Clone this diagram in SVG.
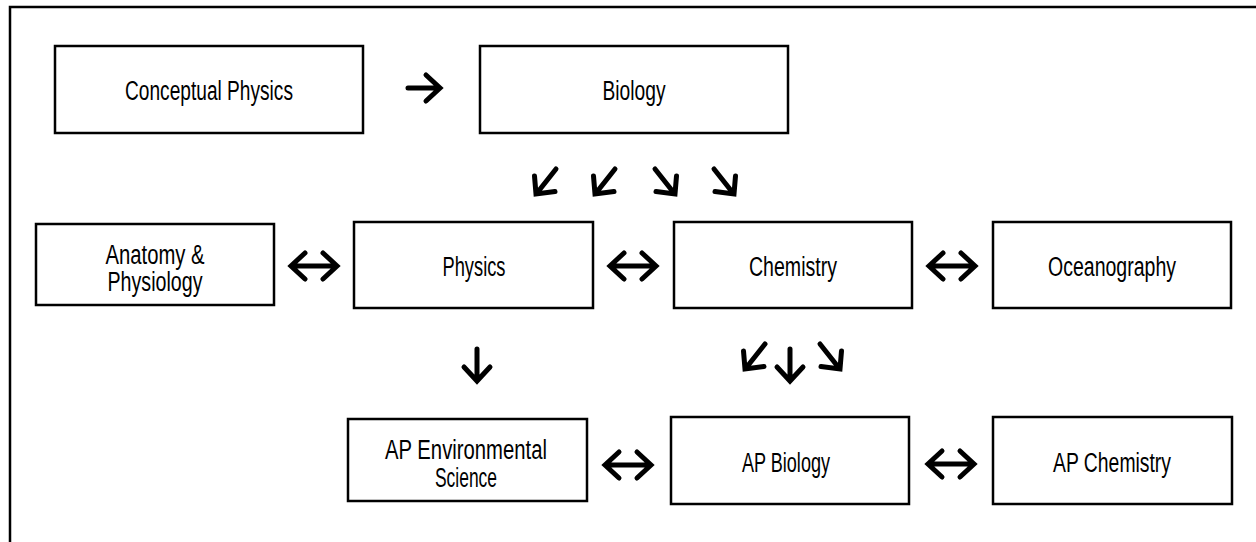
<svg xmlns="http://www.w3.org/2000/svg" width="1256" height="542" viewBox="0 0 1256 542">
<style>
.box{fill:#fff;stroke:#000;stroke-width:2.5}
.lbl{font-family:"Liberation Sans",Arial,sans-serif;font-size:27px;fill:#000;text-anchor:middle}
.arr{fill:none;stroke:#000;stroke-width:5;stroke-linecap:round;stroke-linejoin:miter}
</style>
<defs>
<path id="aR" d="M-16,0 H15 M2,-13 L16,0 L2,13"/>
<path id="aLR" d="M-22,0 H22 M-9,-13 L-23,0 L-9,13 M9,-13 L23,0 L9,13"/>
<path id="aD" d="M0,-16 V15 M-13,2 L0,16 L13,2"/>
<path id="aDL" d="M20,-25 L1,-1 M-1.5,-18 L0,0 L19,-2.5"/>
<path id="aDR" d="M-20,-25 L-1,-1 M1.5,-18 L0,0 L-19,-2.5"/>
</defs>
<rect width="1256" height="542" fill="#fff"/>
<path d="M10,548 V7 H1262" fill="none" stroke="#000" stroke-width="2.5"/>

<g id="conceptual-physics"><rect class="box" x="55" y="46" width="308" height="87"/><text class="lbl" x="209" y="100" textLength="168" lengthAdjust="spacingAndGlyphs">Conceptual Physics</text></g>
<g id="biology"><rect class="box" x="480" y="46" width="308" height="87"/><text class="lbl" x="634" y="100" textLength="63" lengthAdjust="spacingAndGlyphs">Biology</text></g>

<g id="anatomy-physiology"><rect class="box" x="36" y="224" width="238" height="81"/><text class="lbl" x="155" y="264" textLength="99" lengthAdjust="spacingAndGlyphs">Anatomy &amp;</text><text class="lbl" x="155" y="291" textLength="95" lengthAdjust="spacingAndGlyphs">Physiology</text></g>
<g id="physics"><rect class="box" x="354" y="222" width="239" height="86"/><text class="lbl" x="474" y="276" textLength="63" lengthAdjust="spacingAndGlyphs">Physics</text></g>
<g id="chemistry"><rect class="box" x="674" y="222" width="238" height="86"/><text class="lbl" x="793" y="276" textLength="88" lengthAdjust="spacingAndGlyphs">Chemistry</text></g>
<g id="oceanography"><rect class="box" x="993" y="222" width="238" height="86"/><text class="lbl" x="1112" y="276" textLength="128" lengthAdjust="spacingAndGlyphs">Oceanography</text></g>

<g id="ap-environmental-science"><rect class="box" x="348" y="419" width="239" height="82"/><text class="lbl" x="466" y="459" textLength="162" lengthAdjust="spacingAndGlyphs">AP Environmental</text><text class="lbl" x="466" y="487" textLength="62" lengthAdjust="spacingAndGlyphs">Science</text></g>
<g id="ap-biology"><rect class="box" x="671" y="417" width="238" height="87"/><text class="lbl" x="786" y="472" textLength="88" lengthAdjust="spacingAndGlyphs">AP Biology</text></g>
<g id="ap-chemistry"><rect class="box" x="993" y="417" width="239" height="87"/><text class="lbl" x="1112" y="472" textLength="118" lengthAdjust="spacingAndGlyphs">AP Chemistry</text></g>

<g id="connectors" class="arr">
<use href="#aR" x="424" y="88"/>
<use href="#aDL" x="536" y="194"/>
<use href="#aDL" x="595" y="194"/>
<use href="#aDR" x="675" y="194"/>
<use href="#aDR" x="734" y="194"/>
<use href="#aLR" x="314" y="266"/>
<use href="#aLR" x="633" y="266"/>
<use href="#aLR" x="952" y="266"/>
<use href="#aD" x="477" y="365"/>
<use href="#aDL" x="745" y="369"/>
<use href="#aD" x="790" y="365"/>
<use href="#aDR" x="840" y="369"/>
<use href="#aLR" x="628" y="465"/>
<use href="#aLR" x="951" y="464"/>
</g>
</svg>
